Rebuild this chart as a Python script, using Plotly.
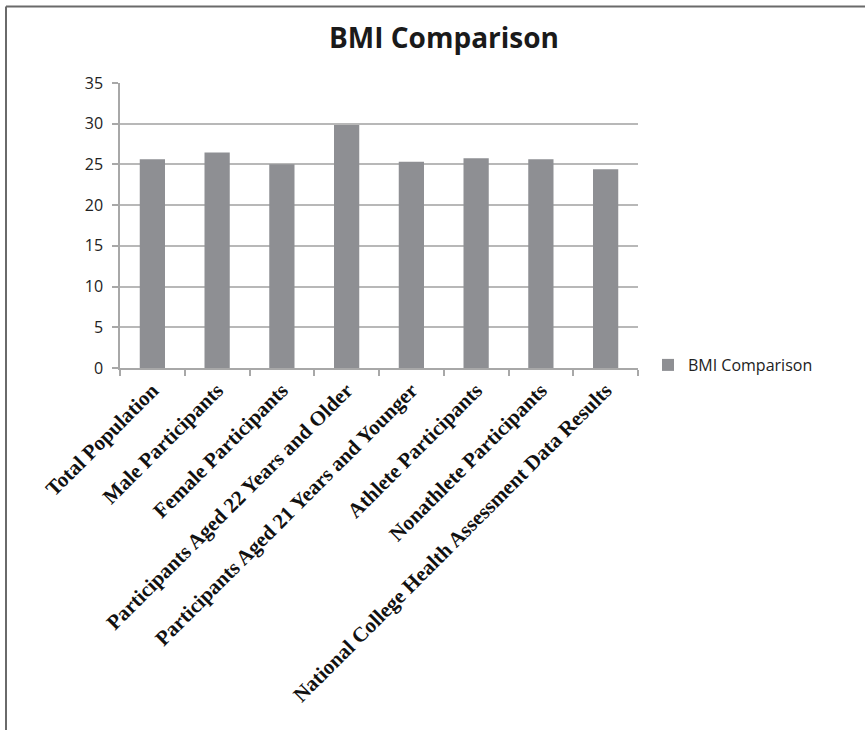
import plotly.graph_objects as go

# BMI averages by participant group
categories = [
    "Total Population",
    "Male Participants",
    "Female Participants",
    "Participants Aged 22 Years and Older",
    "Participants Aged 21 Years and Younger",
    "Athlete Participants",
    "Nonathlete Participants",
    "National College Health Assessment Data Results",
]
bmi_values = [25.65, 26.47, 25.03, 29.83, 25.32, 25.77, 25.65, 24.42]
y_ticks = [0, 5, 10, 15, 20, 25, 30, 35]

W, H = 865, 730
left, right, top, bottom = 120, 638, 83, 368
pw, ph = right - left, bottom - top

fig = go.Figure()
fig.add_trace(go.Bar(
    x=categories,
    y=bmi_values,
    name="BMI Comparison",
    marker=dict(color="#8E8F93", line=dict(width=0)),
    showlegend=True,
))

fig.update_layout(
    width=W,
    height=H,
    paper_bgcolor="white",
    plot_bgcolor="white",
    margin=dict(l=left, r=W - right, t=top, b=H - bottom, pad=0),
    bargap=0.61,
    title=dict(
        text="<b>BMI Comparison</b>",
        x=(327 + 561) / 2 / W,
        xanchor="center",
        y=1 - 38 / H,
        yanchor="middle",
        font=dict(family="Open Sans", size=28, color="#1a1a1a"),
    ),
    legend=dict(
        x=(648 - left) / pw,
        y=(bottom - 365) / ph,
        yanchor="middle",
        xanchor="left",
        font=dict(family="Open Sans", size=16, color="#222222"),
        bgcolor="rgba(0,0,0,0)",
        itemwidth=30,
    ),
    font=dict(family="Open Sans", color="#222222"),
)

fig.update_xaxes(
    type="category",
    showline=True,
    linecolor="#A8A8A8",
    linewidth=1.5,
    ticks="outside",
    tickson="boundaries",
    ticklen=6,
    tickcolor="#A8A8A8",
    tickwidth=1.5,
    tickangle=-45,
    tickfont=dict(family="Liberation Serif", size=21, color="#111111", weight="bold"),
    showgrid=False,
)

fig.update_yaxes(
    range=[0, 35],
    tickvals=y_ticks,
    ticktext=[str(v) for v in y_ticks],
    showline=True,
    linecolor="#A8A8A8",
    linewidth=1.5,
    ticks="outside",
    ticklen=6,
    tickcolor="#A8A8A8",
    tickwidth=1.5,
    showgrid=True,
    gridcolor="#B8B8B8",
    gridwidth=1.5,
    zeroline=False,
    tickfont=dict(family="Open Sans", size=16, color="#222222"),
    ticklabelstandoff=6,
)

# Frame lines along the top and left edges of the page
fx = (6 - left) / pw
fy_top = (bottom - 6.5) / ph
fig.add_shape(type="line", xref="paper", yref="paper",
              x0=fx, x1=(W - left) / pw, y0=fy_top, y1=fy_top,
              line=dict(color="#6A6A6A", width=2))
fig.add_shape(type="line", xref="paper", yref="paper",
              x0=fx, x1=fx, y0=fy_top, y1=(bottom - H) / ph,
              line=dict(color="#6A6A6A", width=2))

fig.write_html("out.html")
